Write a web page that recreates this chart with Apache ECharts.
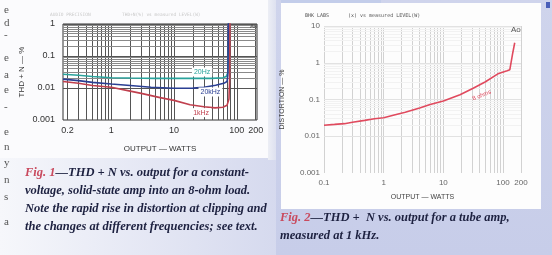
<!DOCTYPE html>
<html><head><meta charset="utf-8">
<script src="https://cdn.jsdelivr.net/npm/echarts@6/dist/echarts.min.js"></script>
<style>html,body{margin:0;padding:0;background:#fbfbfd}#c{width:552px;height:255px}</style>
</head><body><div id="c"></div>
<script>
// ---------- Fig. 1 : THD+N vs output, solid-state amp ----------
const f1TickX = [0.2, 1, 10, 100, 200];
const f1TickXLabels = ['0.2', '1', '10', '100', '200'];
const f1TickY = [0.001, 0.01, 0.1, 1];
const f1TickYLabels = ['0.001', '0.01', '0.1', '1'];

const hz20W   = [0.17, 0.3, 0.5, 1, 2, 5, 10, 20, 40, 60, 68, 72, 73.5, 74.5, 75];
const hz20Thd = [0.027, 0.025, 0.023, 0.021, 0.0205, 0.02, 0.02, 0.02, 0.02, 0.021, 0.023, 0.03, 0.08, 0.5, 3];

const khz20W   = [0.17, 0.3, 0.5, 1, 2, 4.3, 10, 20, 30, 46, 62, 70, 72, 73, 73.5];
const khz20Thd = [0.019, 0.017, 0.015, 0.0133, 0.012, 0.0106, 0.0098, 0.0099, 0.0105, 0.0122, 0.014, 0.016, 0.025, 0.2, 3];

const khz1W   = [0.17, 0.3, 0.5, 1, 2, 3, 6, 10, 18, 30, 45, 60, 70, 75, 77, 78];
const khz1Thd = [0.016, 0.014, 0.012, 0.0105, 0.008, 0.0068, 0.005, 0.0041, 0.003, 0.0026, 0.0024, 0.0025, 0.0029, 0.0045, 0.02, 3];

// ---------- Fig. 2 : distortion vs output, tube amp ----------
const f2TickX = [0.1, 1, 10, 100, 200];
const f2TickXLabels = ['0.1', '1', '10', '100', '200'];
const f2TickY = [0.001, 0.01, 0.1, 1, 10];
const f2TickYLabels = ['0.001', '0.01', '0.1', '1', '10'];

const tubeW    = [0.1, 0.15, 0.22, 0.3, 0.48, 0.7, 1, 1.5, 2.3, 4, 6, 10, 19, 31, 50, 82, 117, 130, 144, 157];
const tubeDist = [0.020, 0.021, 0.022, 0.024, 0.027, 0.03, 0.032, 0.038, 0.045, 0.059, 0.073, 0.091, 0.135, 0.2, 0.3, 0.5, 0.61, 0.65, 1.7, 3.5];

const sideLetters = ['e', 'd', '-', 'e', 'a', 'e', '-', 'e', 'n', 'y', 'n', 's', 'a'];

// ---------- helpers ----------
const zip = (xs, ys) => xs.map((x, i) => [x, ys[i]]);
const fmt = (ticks, labels) => v => {
  const i = ticks.findIndex(t => Math.abs(Math.log10(t) - Math.log10(v)) < 1e-6);
  return i >= 0 ? labels[i] : '';
};
function logGrid(lo, hi) {
  const out = [];
  for (let e = -4; e <= 3; e++) for (let m = 1; m <= 9; m++) {
    const v = +(m * Math.pow(10, e)).toPrecision(3);
    if (v >= lo * 0.999 && v <= hi * 1.001) out.push(v);
  }
  return out;
}
const SANS = '"Liberation Sans", Arial, sans-serif';

function gridSeries(xi, yi, xs, ys, vColor, hColor, decColor) {
  const data = [];
  xs.forEach(v => data.push({ xAxis: v, lineStyle: { color: vColor } }));
  ys.forEach(v => {
    const dec = Math.abs(Math.log10(v) - Math.round(Math.log10(v))) < 1e-6;
    data.push({ yAxis: v, lineStyle: { color: dec ? decColor : hColor } });
  });
  return {
    type: 'line', xAxisIndex: xi, yAxisIndex: yi, data: [], symbol: 'none', silent: true, z: 1,
    markLine: { silent: true, z: 1, symbol: ['none', 'none'], label: { show: false }, animation: false,
      lineStyle: { type: 'solid', width: 1 }, emphasis: { disabled: true }, data }
  };
}

const chart = echarts.init(document.getElementById('c'), null, { renderer: 'canvas' });

const capFont = 'italic bold 12.5px "Liberation Serif", "Times New Roman", serif';
const capRich = { r: { fill: '#c94a5e', font: capFont } };
function cap(x, y, text) {
  return { type: 'text', x, y, z: 50,
    style: { text, font: capFont, fill: '#1d2140', rich: capRich, align: 'left', verticalAlign: 'middle', textAlign: 'left', textVerticalAlign: 'middle' } };
}
function txt(x, y, text, font, fill, align) {
  return { type: 'text', x, y, z: 50,
    style: { text, font, fill, align: align || 'left', verticalAlign: 'middle', textAlign: align || 'left', textVerticalAlign: 'middle' } };
}

const graphics = [
  { type: 'rect', z: -20, shape: { x: 0, y: 0, width: 552, height: 255 }, style: { fill: '#fbfbfd' } },
  { type: 'rect', z: -19, shape: { x: 0, y: 158, width: 280, height: 97 },
    style: { fill: new echarts.graphic.LinearGradient(0, 0, 1, 0, [{ offset: 0, color: '#f6f7fb' }, { offset: 1, color: '#d5d9ee' }]) } },
  { type: 'rect', z: -19, shape: { x: 268, y: 0, width: 14, height: 160 },
    style: { fill: new echarts.graphic.LinearGradient(0, 0, 1, 0, [{ offset: 0, color: '#eceef5' }, { offset: 1, color: '#d3d7ec' }]) } },
  { type: 'rect', z: -19, shape: { x: 276, y: 0, width: 276, height: 255 },
    style: { fill: new echarts.graphic.LinearGradient(0, 0, 0, 1, [{ offset: 0, color: '#cfd4ec' }, { offset: 1, color: '#c7cde9' }]) } },
  { type: 'rect', z: -18, shape: { x: 281, y: 3, width: 260, height: 206 }, style: { fill: '#fdfdfd' } },
  { type: 'rect', z: -18, shape: { x: 281, y: 0, width: 100, height: 3 }, style: { fill: '#c3cdea' } },
  { type: 'rect', z: -18, shape: { x: 546, y: 2, width: 4, height: 6 }, style: { fill: '#4a5fb8' } },
  // headers
  txt(50, 15, 'AUDIO PRECISION', '4.5px "DejaVu Sans Mono", monospace', '#c9c9c9'),
  txt(122, 15, 'THD+N(%) vs measured LEVEL(W)', '4.5px "DejaVu Sans Mono", monospace', '#c9c9c9'),
  txt(305, 16, 'BHK LABS', '5px "DejaVu Sans Mono", monospace', '#555'),
  txt(348, 16, '(x) vs measured LEVEL(W)', '5px "DejaVu Sans Mono", monospace', '#555'),
  txt(250, 26, 'Ao', '6px ' + SANS, '#444'),
  txt(511, 30, 'Ao', '8px ' + SANS, '#555'),
  // captions
  cap(25, 173, '{r|Fig. 1}—THD + N vs. output for a constant-'),
  cap(25, 191, 'voltage, solid-state amp into an 8-ohm load.'),
  cap(25, 209, 'Note the rapid rise in distortion at clipping and'),
  cap(25, 227, 'the changes at different frequencies; see text.'),
  cap(280, 218, '{r|Fig. 2}—THD +  N vs. output for a tube amp,'),
  cap(280, 236, 'measured at 1 kHz.')
];
const sideY = [10, 23, 35, 58, 75, 90, 107, 132, 147, 163, 180, 197, 222];
sideLetters.forEach((l, i) => graphics.push(txt(4, sideY[i], l, '11px "Liberation Serif", serif', '#555')));

function markLbl(coord, text, color, rotate, size) {
  return {
    symbol: 'rect', symbolSize: 1, silent: true, animation: false,
    itemStyle: { color: 'rgba(0,0,0,0)' },
    label: { show: true, position: 'inside', formatter: '{b}', color, fontFamily: SANS, fontSize: size || 7, rotate: rotate || 0,
      backgroundColor: rotate ? 'transparent' : '#fff', padding: [1, 2] },
    data: [{ coord, name: text }]
  };
}

const option = {
  backgroundColor: '#fbfbfd',
  animation: false,
  graphic: graphics,
  grid: [
    { left: 63, top: 24, width: 194, height: 96, show: true, backgroundColor: '#fff', borderColor: '#333', borderWidth: 1 },
    { left: 324, top: 26, width: 197, height: 147, show: false }
  ],
  xAxis: [
    { type: 'log', logBase: 10, gridIndex: 0, min: 0.17, max: 210,
      name: 'OUTPUT — WATTS', nameLocation: 'middle', nameGap: 25,
      nameTextStyle: { fontFamily: SANS, fontSize: 8, color: '#333' },
      axisLine: { show: false }, axisTick: { show: false }, splitLine: { show: false }, minorTick: { show: false },
      axisLabel: { customValues: f1TickX, formatter: fmt(f1TickX, f1TickXLabels), fontFamily: SANS, fontSize: 9, color: '#333', margin: 6 } },
    { type: 'log', logBase: 10, gridIndex: 1, min: 0.1, max: 200,
      name: 'OUTPUT — WATTS', nameLocation: 'middle', nameGap: 21,
      nameTextStyle: { fontFamily: SANS, fontSize: 7, color: '#444' },
      axisLine: { show: false }, axisTick: { show: false }, splitLine: { show: false }, minorTick: { show: false },
      axisLabel: { customValues: f2TickX, formatter: fmt(f2TickX, f2TickXLabels), fontFamily: SANS, fontSize: 8, color: '#666', margin: 6 } }
  ],
  yAxis: [
    { type: 'log', logBase: 10, gridIndex: 0, min: 0.001, max: 1,
      name: 'THD + N — %', nameLocation: 'middle', nameGap: 37,
      nameTextStyle: { fontFamily: SANS, fontSize: 8, color: '#333' },
      axisLine: { show: false }, axisTick: { show: false }, splitLine: { show: false }, minorTick: { show: false },
      axisLabel: { customValues: f1TickY, formatter: fmt(f1TickY, f1TickYLabels), fontFamily: SANS, fontSize: 9, color: '#333', margin: 8 } },
    { type: 'log', logBase: 10, gridIndex: 1, min: 0.001, max: 10,
      name: 'DISTORTION — %', nameLocation: 'middle', nameGap: 38,
      nameTextStyle: { fontFamily: SANS, fontSize: 7, color: '#444' },
      axisLine: { show: false }, axisTick: { show: false }, splitLine: { show: false }, minorTick: { show: false },
      axisLabel: { customValues: f2TickY, formatter: fmt(f2TickY, f2TickYLabels), fontFamily: SANS, fontSize: 8, color: '#666', margin: 4 } }
  ],
  series: [
    gridSeries(0, 0, logGrid(0.2, 200), logGrid(0.001, 1), '#555', '#8a8a8a', '#555'),
    gridSeries(1, 1, logGrid(0.1, 200), logGrid(0.001, 10), '#d2d2d2', '#f2f2f2', '#e2e2e2'),
    { name: '20 Hz', type: 'line', xAxisIndex: 0, yAxisIndex: 0, data: zip(hz20W, hz20Thd), symbol: 'none', z: 3,
      lineStyle: { color: '#2aa39c', width: 1.6 }, markPoint: markLbl([28, 0.0316], '20Hz', '#2aa39c') },
    { name: '20 kHz', type: 'line', xAxisIndex: 0, yAxisIndex: 0, data: zip(khz20W, khz20Thd), symbol: 'none', z: 3,
      lineStyle: { color: '#2b3f93', width: 1.6 }, markPoint: markLbl([38, 0.0075], '20kHz', '#2b3f93') },
    { name: '1 kHz', type: 'line', xAxisIndex: 0, yAxisIndex: 0, data: zip(khz1W, khz1Thd), symbol: 'none', z: 3,
      lineStyle: { color: '#c0404e', width: 1.6 }, markPoint: markLbl([27, 0.0017], '1kHz', '#c0404e') },
    { name: '8 ohms', type: 'line', xAxisIndex: 1, yAxisIndex: 1, data: zip(tubeW, tubeDist), symbol: 'none', z: 3,
      lineStyle: { color: '#e04a5e', width: 1.6 }, markPoint: markLbl([44, 0.13], '8 ohms', '#e04a5e', 22, 6) }
  ]
};
chart.setOption(option);
</script></body></html>
